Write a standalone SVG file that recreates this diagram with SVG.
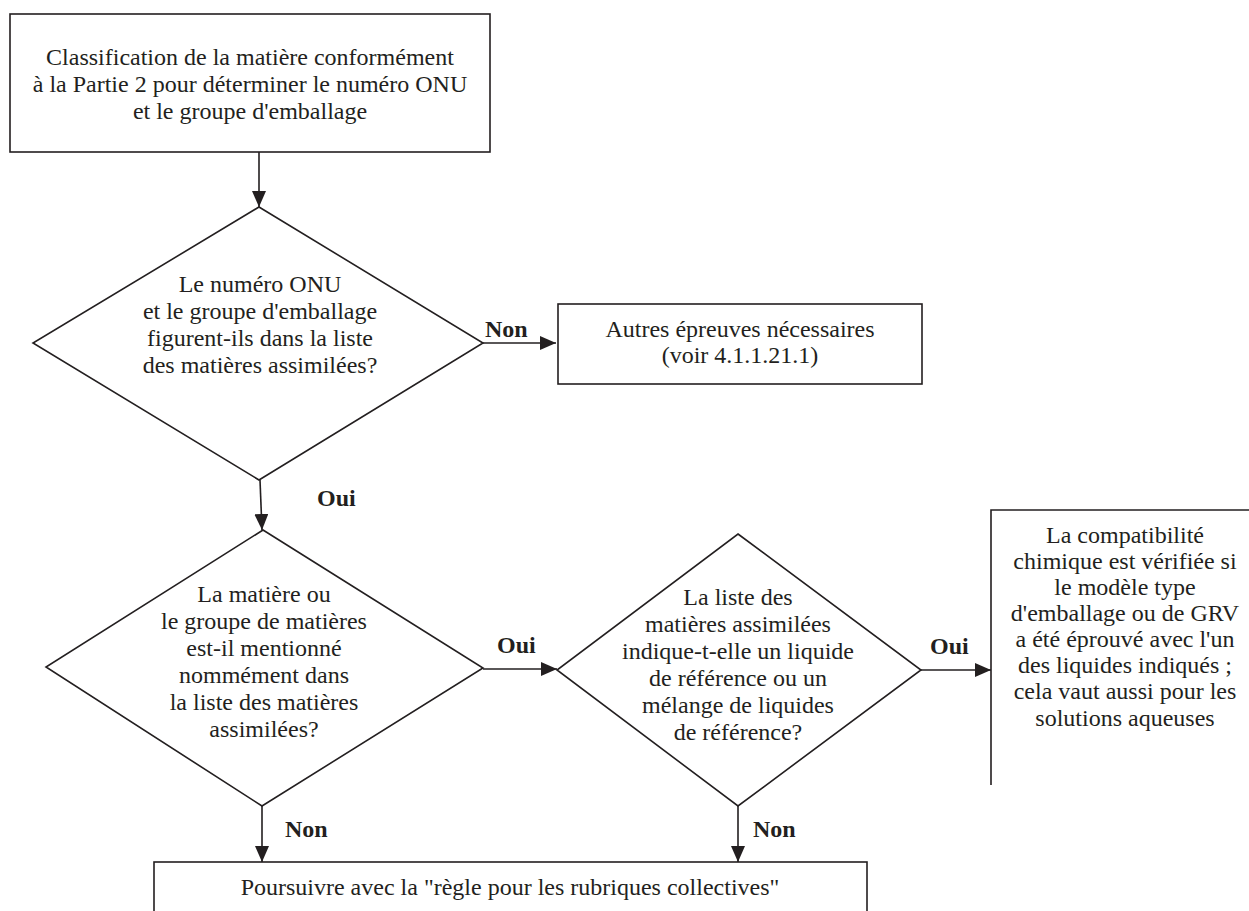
<svg xmlns="http://www.w3.org/2000/svg" width="1249" height="911" viewBox="0 0 1249 911">
<style>
.box{fill:#fff;stroke:#231f20;stroke-width:1.6}
.open{fill:none;stroke:#231f20;stroke-width:1.6}
.edge{fill:none;stroke:#231f20;stroke-width:1.6;marker-end:url(#ah)}
.t{font-family:"Liberation Serif","Times New Roman",serif;font-size:24px;fill:#231f20;text-anchor:middle}
.lb{font-family:"Liberation Serif","Times New Roman",serif;font-size:24px;font-weight:bold;fill:#231f20}
</style>
<defs>
<marker id="ah" markerUnits="userSpaceOnUse" markerWidth="16" markerHeight="14" refX="16" refY="7" orient="auto">
<path d="M0,0 L16,7 L0,14 z" fill="#231f20"/>
</marker>
</defs>
<rect width="1249" height="911" fill="#fff"/>
<g id="n-classification">
<rect class="box" x="10" y="14" width="480" height="138"/>
<text class="t" x="250" y="65">Classification de la matière conformément</text>
<text class="t" x="250" y="92">à la Partie 2 pour déterminer le numéro ONU</text>
<text class="t" x="250" y="119">et le groupe d'emballage</text>
</g>
<g id="n-decision1">
<polygon class="box" points="259,207 483,343 259,480 33,343"/>
<text class="t" x="260" y="292">Le numéro ONU</text>
<text class="t" x="260" y="319">et le groupe d'emballage</text>
<text class="t" x="260" y="346">figurent-ils dans la liste</text>
<text class="t" x="260" y="373">des matières assimilées?</text>
</g>
<g id="n-autres">
<rect class="box" x="558" y="304" width="364" height="80"/>
<text class="t" x="740" y="337">Autres épreuves nécessaires</text>
<text class="t" x="740" y="363">(voir 4.1.1.21.1)</text>
</g>
<g id="n-decision2">
<polygon class="box" points="263,530 483,668 262,806 46,667"/>
<text class="t" x="264" y="602">La matière ou</text>
<text class="t" x="264" y="629">le groupe de matières</text>
<text class="t" x="264" y="656">est-il mentionné</text>
<text class="t" x="264" y="683">nommément dans</text>
<text class="t" x="264" y="710">la liste des matières</text>
<text class="t" x="264" y="737">assimilées?</text>
</g>
<g id="n-decision3">
<polygon class="box" points="738,534 921,670 738,806 557,670"/>
<text class="t" x="738" y="605">La liste des</text>
<text class="t" x="738" y="632">matières assimilées</text>
<text class="t" x="738" y="659">indique-t-elle un liquide</text>
<text class="t" x="738" y="686">de référence ou un</text>
<text class="t" x="738" y="713">mélange de liquides</text>
<text class="t" x="738" y="740">de référence?</text>
</g>
<g id="n-compatibilite">
<path class="open" d="M1249,510 H991 V785"/>
<text class="t" x="1125" y="543">La compatibilité</text>
<text class="t" x="1125" y="569">chimique est vérifiée si</text>
<text class="t" x="1125" y="595">le modèle type</text>
<text class="t" x="1125" y="621">d'emballage ou de GRV</text>
<text class="t" x="1125" y="647">a été éprouvé avec l'un</text>
<text class="t" x="1125" y="673">des liquides indiqués ;</text>
<text class="t" x="1125" y="699">cela vaut aussi pour les</text>
<text class="t" x="1125" y="726">solutions aqueuses</text>
</g>
<g id="n-poursuivre">
<rect class="box" x="154" y="862" width="713" height="60"/>
<text class="t" x="510" y="895">Poursuivre avec la "règle pour les rubriques collectives"</text>
</g>
<g id="connectors">
<line class="edge" x1="259" y1="152" x2="259" y2="207"/>
<line class="edge" x1="483" y1="343" x2="556" y2="343"/>
<line class="edge" x1="260" y1="480" x2="262" y2="530"/>
<line class="edge" x1="483" y1="669" x2="557" y2="669"/>
<line class="edge" x1="921" y1="670" x2="991" y2="670"/>
<line class="edge" x1="262" y1="806" x2="262" y2="862"/>
<line class="edge" x1="738" y1="806" x2="738" y2="862"/>
<text class="lb" x="485" y="337">Non</text>
<text class="lb" x="317" y="506">Oui</text>
<text class="lb" x="497" y="653">Oui</text>
<text class="lb" x="930" y="654">Oui</text>
<text class="lb" x="285" y="837">Non</text>
<text class="lb" x="753" y="837">Non</text>
</g>
</svg>
